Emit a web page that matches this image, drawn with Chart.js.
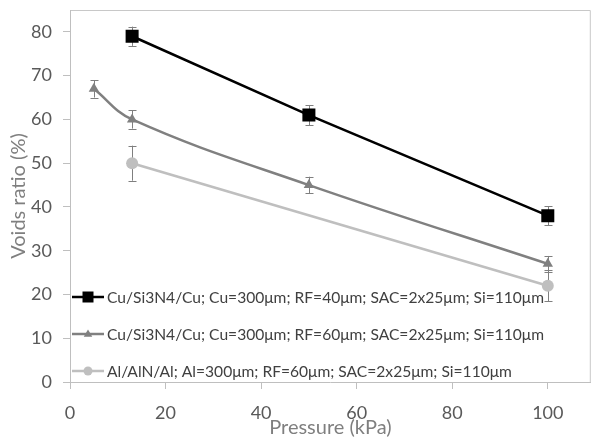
<!DOCTYPE html>
<html>
<head>
<meta charset="utf-8">
<script src="https://cdn.jsdelivr.net/npm/chart.js@4/dist/chart.umd.min.js"></script>
<style>
  html, body { margin: 0; padding: 0; background: #fff; }
  #wrap { width: 600px; height: 437px; position: relative; }
</style>
</head>
<body>
<div id="wrap"><canvas id="voidsChart"></canvas></div>
<script>
// series data
var seriesLabels = [
    'Cu/Si3N4/Cu; Cu=300\u03bcm; RF=40\u03bcm; SAC=2x25\u03bcm; Si=110\u03bcm',
    'Cu/Si3N4/Cu; Cu=300\u03bcm; RF=60\u03bcm; SAC=2x25\u03bcm; Si=110\u03bcm',
    'Al/AlN/Al; Al=300\u03bcm; RF=60\u03bcm; SAC=2x25\u03bcm; Si=110\u03bcm'
];
var pressureRF40 = [13, 50, 100];
var voidsRF40 = [79, 61, 38];
var errRF40 = [2.2, 2.3, 2.2];

var pressureRF60 = [5, 13, 50, 100];
var voidsRF60 = [67, 60, 45, 27];
var errRF60 = [2, 2.1, 1.9, 1.8];

var pressureAlN = [13, 100];
var voidsAlN = [50, 22];
var errAlN = [4, 3.5];

var xTicks = [0, 20, 40, 60, 80, 100];
var yTicks = [0, 10, 20, 30, 40, 50, 60, 70, 80];

var colors = ['#000000', '#808080', '#bfbfbf'];
var FONT = 'Lato';

function toPoints(xs, ys) {
    return xs.map(function (x, i) { return {x: x, y: ys[i]}; });
}

function drawMarker(ctx, style, x, y, r, color) {
    ctx.save();
    ctx.fillStyle = color;
    ctx.beginPath();
    if (style === 'rect') {
        ctx.rect(x - r, y - r, 2 * r, 2 * r);
    } else if (style === 'triangle') {
        ctx.moveTo(x, y - r);
        ctx.lineTo(x + r * 0.95, y + r * 0.6);
        ctx.lineTo(x - r * 0.95, y + r * 0.6);
        ctx.closePath();
    } else {
        ctx.arc(x, y, r, 0, Math.PI * 2);
    }
    ctx.fill();
    ctx.restore();
}

// error bars under the markers
var errorBars = {
    id: 'errorBars',
    beforeDatasetsDraw: function (chart) {
        var ctx = chart.ctx;
        var xs = chart.scales.x, ys = chart.scales.y;
        ctx.save();
        ctx.strokeStyle = '#7f7f7f';
        ctx.lineWidth = 1;
        chart.data.datasets.forEach(function (ds) {
            ds.data.forEach(function (p, i) {
                var e = ds.errors[i];
                var px = Math.round(xs.getPixelForValue(p.x)) + 0.5;
                var top = ys.getPixelForValue(p.y + e);
                var bot = ys.getPixelForValue(p.y - e);
                ctx.beginPath();
                ctx.moveTo(px, top); ctx.lineTo(px, bot);
                ctx.moveTo(px - 4, Math.round(top) + 0.5); ctx.lineTo(px + 4, Math.round(top) + 0.5);
                ctx.moveTo(px - 4, Math.round(bot) + 0.5); ctx.lineTo(px + 4, Math.round(bot) + 0.5);
                ctx.stroke();
            });
        });
        ctx.restore();
    }
};

// plot frame on top and right
var frame = {
    id: 'frame',
    beforeDraw: function (chart) {
        var a = chart.chartArea, ctx = chart.ctx;
        ctx.save();
        ctx.strokeStyle = '#c8c8c8';
        ctx.lineWidth = 1;
        ctx.beginPath();
        ctx.moveTo(a.left, a.top + 0.5);
        ctx.lineTo(a.right - 0.5, a.top + 0.5);
        ctx.lineTo(a.right - 0.5, a.bottom);
        ctx.stroke();
        ctx.restore();
    }
};

// legend inside the plot, lower left
var insideLegend = {
    id: 'insideLegend',
    afterDraw: function (chart) {
        var ctx = chart.ctx;
        var rows = [297, 334, 371];
        var styles = [['rect', 5.5], ['triangle', 4.5], ['circle', 4.5]];
        ctx.save();
        ctx.font = '15.6px ' + FONT;
        ctx.textBaseline = 'middle';
        ctx.textAlign = 'left';
        seriesLabels.forEach(function (label, i) {
            var y = rows[i];
            ctx.strokeStyle = colors[i];
            ctx.lineWidth = 2.5;
            ctx.beginPath();
            ctx.moveTo(72, y); ctx.lineTo(104, y);
            ctx.stroke();
            drawMarker(ctx, styles[i][0], 88, y, styles[i][1], colors[i]);
            ctx.fillStyle = '#404040';
            ctx.fillText(label, 107, y + 1);
        });
        ctx.restore();
    }
};

var axisStyle = {
    grid: {drawOnChartArea: false, drawTicks: true, tickLength: 7, color: '#bfbfbf'},
    border: {display: true, color: '#bfbfbf', width: 1}
};

new Chart(document.getElementById('voidsChart'), {
    type: 'scatter',
    data: {
        datasets: [{
            label: seriesLabels[0],
            data: toPoints(pressureRF40, voidsRF40),
            errors: errRF40,
            showLine: true,
            borderColor: colors[0],
            backgroundColor: colors[0],
            borderWidth: 2.5,
            pointStyle: 'rect',
            pointRadius: 9.2,
            pointBorderWidth: 0,
            tension: 0
        }, {
            label: seriesLabels[1],
            data: toPoints(pressureRF60, voidsRF60),
            errors: errRF60,
            showLine: true,
            borderColor: colors[1],
            backgroundColor: colors[1],
            borderWidth: 2.5,
            pointStyle: 'triangle',
            pointRadius: 6,
            pointBorderWidth: 0,
            tension: 0.4
        }, {
            label: seriesLabels[2],
            data: toPoints(pressureAlN, voidsAlN),
            errors: errAlN,
            showLine: true,
            borderColor: colors[2],
            backgroundColor: colors[2],
            borderWidth: 2.5,
            pointStyle: 'circle',
            pointRadius: 6,
            pointBorderWidth: 0,
            tension: 0
        }]
    },
    options: {
        responsive: true,
        maintainAspectRatio: false,
        animation: false,
        layout: {padding: {top: 10, right: 0, left: 0, bottom: 0}},
        plugins: {
            legend: {display: false},
            tooltip: {enabled: false}
        },
        scales: {
            x: Object.assign({
                type: 'linear',
                min: 0,
                max: 109,
                afterBuildTicks: function (scale) {
                    scale.ticks = xTicks.map(function (v) { return {value: v}; });
                },
                afterFit: function (scale) {
                    scale.height = 55;
                    scale.paddingLeft = 0;
                    scale.paddingRight = 0;
                },
                ticks: {color: '#595959', padding: 13, font: {family: FONT, size: 18}},
                title: {display: true, text: 'Pressure (kPa)', color: '#7f7f7f',
                        padding: {top: 0, bottom: -1}, font: {family: FONT, size: 20, lineHeight: 1}}
            }, axisStyle),
            y: Object.assign({
                type: 'linear',
                min: 0,
                max: 85,
                afterBuildTicks: function (scale) {
                    scale.ticks = yTicks.map(function (v) { return {value: v}; });
                },
                afterFit: function (scale) {
                    scale.width = 70;
                    scale.paddingTop = 0;
                    scale.paddingBottom = 0;
                },
                ticks: {color: '#595959', padding: 11, font: {family: FONT, size: 18}},
                title: {display: true, text: 'Voids ratio (%)', color: '#7f7f7f',
                        padding: {top: 7, bottom: 0}, font: {family: FONT, size: 20}}
            }, axisStyle)
        }
    },
    plugins: [frame, errorBars, insideLegend]
});
</script>
</body>
</html>
